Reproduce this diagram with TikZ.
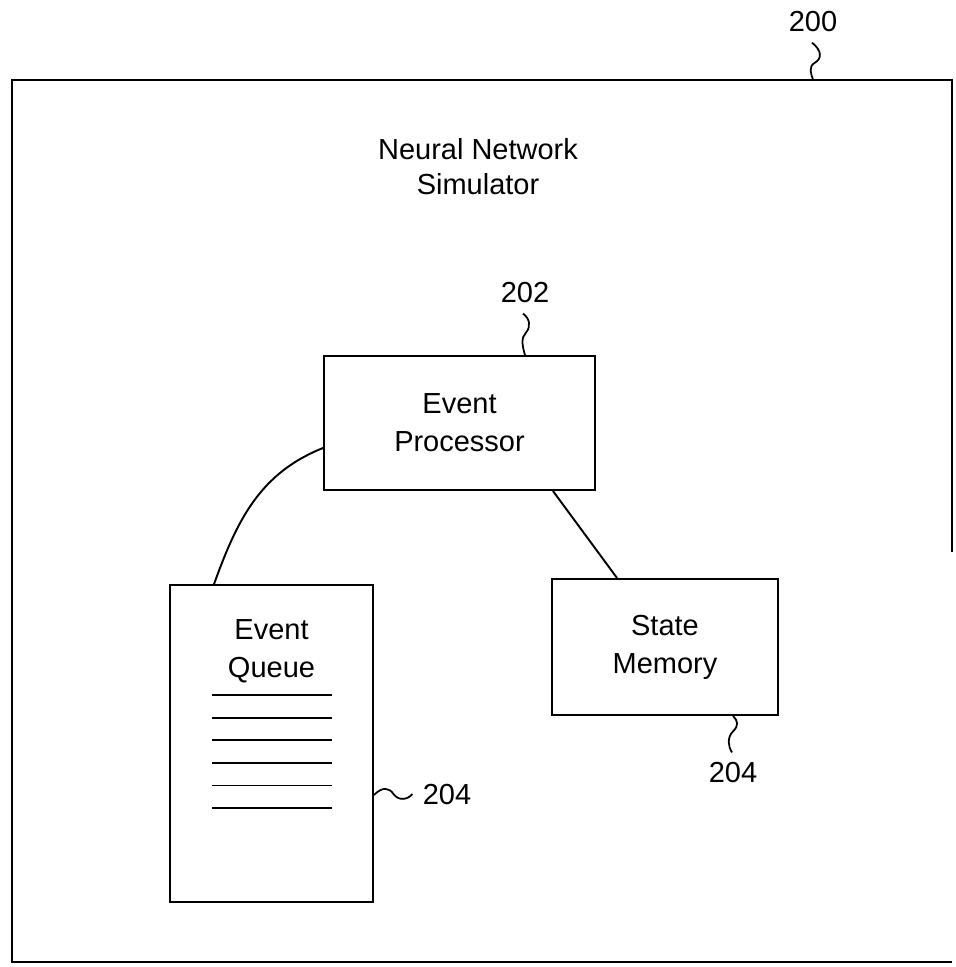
\documentclass[tikz,border=0pt]{standalone}
\usepackage{fontspec}
\setmainfont{Liberation Sans}
\usetikzlibrary{positioning,calc}
\tikzset{
  blok/.style={draw,line width=1.1pt,align=center,inner sep=2pt,font=\fontsize{16.5}{21.5}\selectfont},
  popis/.style={inner sep=0pt,font=\fontsize{16.5}{20}\selectfont},
  vodic/.style={line width=1pt},
  hrana/.style={line width=1.1pt},
}

\begin{document}
\begin{tikzpicture}[x=0.02cm,y=-0.02cm]
  \useasboundingbox (0,0) rectangle (956,967);
  % outer frame (right side fades out in the scan)
  \node[minimum width=18.8cm,minimum height=17.64cm,inner sep=0pt] (frame) at (482,521) {};
  \draw[hrana] ($(frame.north east)+(0,472)$) -- (frame.north east) -- (frame.north west)
    -- (frame.south west) -- (frame.south east);
  \node[popis,align=center] (title) at (478,167) {Neural Network\\Simulator};
  % blocks
  \node[blok,minimum width=5.42cm,minimum height=2.68cm] (proc) at (459.5,423) {Event\\Processor};
  \node[blok,minimum width=4.52cm,minimum height=2.72cm] (mem) at (665,647) {State\\Memory};
  \node[blok,minimum width=4.06cm,minimum height=6.34cm] (queue) at (271.5,743.5) {};
  \node[popis,align=center,font=\fontsize{16.5}{21.5}\selectfont,below=0.7cm of queue.north] (qtext) {Event\\Queue};
  \foreach \i in {0,...,5}
    \draw[hrana] ($(queue.north west)+(43,111+22.6*\i)$) -- ++(120,0);
  % connections
  \draw[hrana] ($(queue.north west)+(45,0)$) .. controls +(23,-64) and +(-63,25) .. ($(proc.west)+(0,25)$);
  \draw[hrana] ($(proc.south east)+(-43,0)$) -- ($(mem.north west)+(66,0)$);
  % reference numerals
  \node[popis] (l200) at (813,22) {200};
  \node[popis] (l202) at (525,293) {202};
  \node[popis] (l204q) at (447,795) {204};
  \node[popis] (l204m) at (733,773) {204};
  \draw[vodic] ($(l200.south)+(-1,10)$) .. controls +(10,8) and +(7,-4) .. ($(l200.south)+(2,30)$)
    .. controls +(-7,4) and +(-2,-6) .. (l200.south |- frame.north);
  \draw[vodic] ($(l202.south)+(-2,10)$) .. controls +(7,5) and +(5,-6) .. ($(l202.south)+(1,29)$)
    .. controls +(-5,5) and +(-3,-10) .. (l202.south |- proc.north);
  \draw[vodic] (queue.east |- l204q) .. controls +(9,-9) and +(-4,-6) .. ($(l204q.west)+(-29,-1)$)
    .. controls +(5,7) and +(-5,6) .. ($(l204q.west)+(-10,-1)$);
  \draw[vodic] (l204m.north |- mem.south) .. controls +(5,5) and +(6,-6) .. ($(l204m.north)+(0,-31)$)
    .. controls +(-6,6) and +(-4,-6) .. ($(l204m.north)+(-1,-10)$);
\end{tikzpicture}
\end{document}
